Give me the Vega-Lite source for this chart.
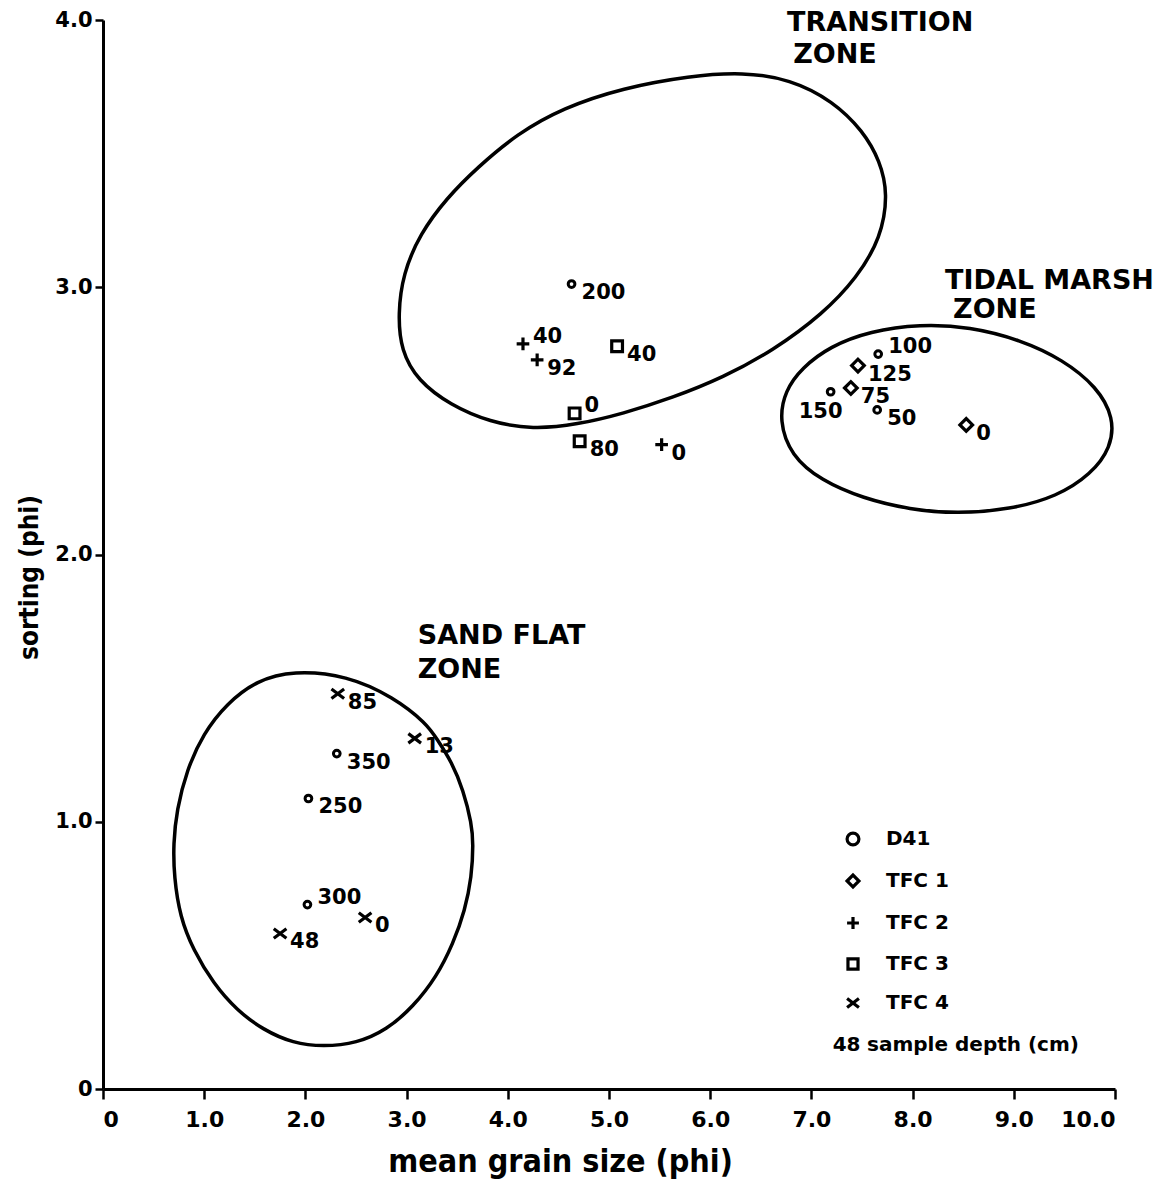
{
  "$schema": "https://vega.github.io/schema/vega-lite/v6.json",
  "autosize": {"type": "none"},
  "padding": {"left": 103, "top": 20, "right": 53, "bottom": 92},
  "width": 1012,
  "height": 1069,
  "background": "white",
  "config": {
    "view": {"stroke": null},
    "axis": {"grid": false, "domainColor": "black", "tickColor": "black", "labelColor": "black", "titleColor": "black"},
    "legend": {
      "orient": "none", "legendX": 740, "legendY": 809, "padding": 0,
      "labelFont": "DejaVu Sans", "labelFontWeight": "bold", "labelFontSize": 20, "labelColor": "black",
      "labelOffset": 23, "rowPadding": 16, "symbolStrokeWidth": 3.2, "symbolStrokeColor": "black",
      "symbolFillColor": "transparent", "symbolSize": 140
    }
  },
  "datasets": {
    "samples": [
      {"series": "D41", "depth": 200, "grain": 4.63, "sorting": 3.012},
      {"series": "D41", "depth": 100, "grain": 7.66, "sorting": 2.750},
      {"series": "D41", "depth": 150, "grain": 7.19, "sorting": 2.609},
      {"series": "D41", "depth": 50, "grain": 7.65, "sorting": 2.541},
      {"series": "D41", "depth": 350, "grain": 2.31, "sorting": 1.255},
      {"series": "D41", "depth": 250, "grain": 2.03, "sorting": 1.087},
      {"series": "D41", "depth": 300, "grain": 2.02, "sorting": 0.690},
      {"series": "TFC 1", "depth": 125, "grain": 7.46, "sorting": 2.707},
      {"series": "TFC 1", "depth": 75, "grain": 7.39, "sorting": 2.623},
      {"series": "TFC 1", "depth": 0, "grain": 8.53, "sorting": 2.485},
      {"series": "TFC 2", "depth": 40, "grain": 4.15, "sorting": 2.788},
      {"series": "TFC 2", "depth": 92, "grain": 4.29, "sorting": 2.728},
      {"series": "TFC 2", "depth": 0, "grain": 5.52, "sorting": 2.411},
      {"series": "TFC 3", "depth": 40, "grain": 5.08, "sorting": 2.779},
      {"series": "TFC 3", "depth": 0, "grain": 4.66, "sorting": 2.528},
      {"series": "TFC 3", "depth": 80, "grain": 4.71, "sorting": 2.424},
      {"series": "TFC 4", "depth": 85, "grain": 2.32, "sorting": 1.479},
      {"series": "TFC 4", "depth": 13, "grain": 3.08, "sorting": 1.312},
      {"series": "TFC 4", "depth": 0, "grain": 2.59, "sorting": 0.642},
      {"series": "TFC 4", "depth": 48, "grain": 1.75, "sorting": 0.582}
    ],
    "zones": [
      {"zone": "transition", "i": 0, "grain": 2.915, "sorting": 2.901},
      {"zone": "transition", "i": 1, "grain": 2.964, "sorting": 3.050},
      {"zone": "transition", "i": 2, "grain": 3.132, "sorting": 3.200},
      {"zone": "transition", "i": 3, "grain": 3.399, "sorting": 3.335},
      {"zone": "transition", "i": 4, "grain": 3.696, "sorting": 3.447},
      {"zone": "transition", "i": 5, "grain": 4.091, "sorting": 3.574},
      {"zone": "transition", "i": 6, "grain": 4.545, "sorting": 3.671},
      {"zone": "transition", "i": 7, "grain": 5.138, "sorting": 3.746},
      {"zone": "transition", "i": 8, "grain": 5.800, "sorting": 3.791},
      {"zone": "transition", "i": 9, "grain": 6.324, "sorting": 3.805},
      {"zone": "transition", "i": 10, "grain": 6.789, "sorting": 3.779},
      {"zone": "transition", "i": 11, "grain": 7.213, "sorting": 3.697},
      {"zone": "transition", "i": 12, "grain": 7.510, "sorting": 3.585},
      {"zone": "transition", "i": 13, "grain": 7.678, "sorting": 3.473},
      {"zone": "transition", "i": 14, "grain": 7.757, "sorting": 3.350},
      {"zone": "transition", "i": 15, "grain": 7.688, "sorting": 3.185},
      {"zone": "transition", "i": 16, "grain": 7.451, "sorting": 3.036},
      {"zone": "transition", "i": 17, "grain": 7.115, "sorting": 2.901},
      {"zone": "transition", "i": 18, "grain": 6.621, "sorting": 2.763},
      {"zone": "transition", "i": 19, "grain": 6.126, "sorting": 2.662},
      {"zone": "transition", "i": 20, "grain": 5.632, "sorting": 2.587},
      {"zone": "transition", "i": 21, "grain": 5.138, "sorting": 2.527},
      {"zone": "transition", "i": 22, "grain": 4.684, "sorting": 2.486},
      {"zone": "transition", "i": 23, "grain": 4.249, "sorting": 2.468},
      {"zone": "transition", "i": 24, "grain": 3.824, "sorting": 2.495},
      {"zone": "transition", "i": 25, "grain": 3.429, "sorting": 2.560},
      {"zone": "transition", "i": 26, "grain": 3.112, "sorting": 2.650},
      {"zone": "transition", "i": 27, "grain": 2.944, "sorting": 2.763},
      {"zone": "tidal", "i": 0, "grain": 6.680, "sorting": 2.501},
      {"zone": "tidal", "i": 1, "grain": 6.739, "sorting": 2.613},
      {"zone": "tidal", "i": 2, "grain": 6.907, "sorting": 2.699},
      {"zone": "tidal", "i": 3, "grain": 7.184, "sorting": 2.779},
      {"zone": "tidal", "i": 4, "grain": 7.579, "sorting": 2.836},
      {"zone": "tidal", "i": 5, "grain": 8.073, "sorting": 2.862},
      {"zone": "tidal", "i": 6, "grain": 8.567, "sorting": 2.852},
      {"zone": "tidal", "i": 7, "grain": 9.061, "sorting": 2.804},
      {"zone": "tidal", "i": 8, "grain": 9.486, "sorting": 2.729},
      {"zone": "tidal", "i": 9, "grain": 9.822, "sorting": 2.627},
      {"zone": "tidal", "i": 10, "grain": 9.990, "sorting": 2.512},
      {"zone": "tidal", "i": 11, "grain": 9.961, "sorting": 2.400},
      {"zone": "tidal", "i": 12, "grain": 9.763, "sorting": 2.300},
      {"zone": "tidal", "i": 13, "grain": 9.427, "sorting": 2.217},
      {"zone": "tidal", "i": 14, "grain": 8.962, "sorting": 2.168},
      {"zone": "tidal", "i": 15, "grain": 8.439, "sorting": 2.153},
      {"zone": "tidal", "i": 16, "grain": 7.974, "sorting": 2.168},
      {"zone": "tidal", "i": 17, "grain": 7.510, "sorting": 2.210},
      {"zone": "tidal", "i": 18, "grain": 7.095, "sorting": 2.277},
      {"zone": "tidal", "i": 19, "grain": 6.798, "sorting": 2.370},
      {"zone": "sand", "i": 0, "grain": 1.880, "sorting": 1.566},
      {"zone": "sand", "i": 1, "grain": 2.408, "sorting": 1.548},
      {"zone": "sand", "i": 2, "grain": 2.869, "sorting": 1.467},
      {"zone": "sand", "i": 3, "grain": 3.199, "sorting": 1.367},
      {"zone": "sand", "i": 4, "grain": 3.297, "sorting": 1.311},
      {"zone": "sand", "i": 5, "grain": 3.446, "sorting": 1.224},
      {"zone": "sand", "i": 6, "grain": 3.560, "sorting": 1.118},
      {"zone": "sand", "i": 7, "grain": 3.643, "sorting": 0.993},
      {"zone": "sand", "i": 8, "grain": 3.659, "sorting": 0.918},
      {"zone": "sand", "i": 9, "grain": 3.643, "sorting": 0.794},
      {"zone": "sand", "i": 10, "grain": 3.577, "sorting": 0.669},
      {"zone": "sand", "i": 11, "grain": 3.461, "sorting": 0.545},
      {"zone": "sand", "i": 12, "grain": 3.297, "sorting": 0.420},
      {"zone": "sand", "i": 13, "grain": 3.066, "sorting": 0.308},
      {"zone": "sand", "i": 14, "grain": 2.803, "sorting": 0.221},
      {"zone": "sand", "i": 15, "grain": 2.507, "sorting": 0.171},
      {"zone": "sand", "i": 16, "grain": 2.177, "sorting": 0.158},
      {"zone": "sand", "i": 17, "grain": 1.880, "sorting": 0.171},
      {"zone": "sand", "i": 18, "grain": 1.584, "sorting": 0.221},
      {"zone": "sand", "i": 19, "grain": 1.321, "sorting": 0.295},
      {"zone": "sand", "i": 20, "grain": 1.090, "sorting": 0.395},
      {"zone": "sand", "i": 21, "grain": 0.892, "sorting": 0.520},
      {"zone": "sand", "i": 22, "grain": 0.761, "sorting": 0.644},
      {"zone": "sand", "i": 23, "grain": 0.702, "sorting": 0.794},
      {"zone": "sand", "i": 24, "grain": 0.695, "sorting": 0.918},
      {"zone": "sand", "i": 25, "grain": 0.728, "sorting": 1.043},
      {"zone": "sand", "i": 26, "grain": 0.827, "sorting": 1.193},
      {"zone": "sand", "i": 27, "grain": 0.991, "sorting": 1.330},
      {"zone": "sand", "i": 28, "grain": 1.222, "sorting": 1.442},
      {"zone": "sand", "i": 29, "grain": 1.519, "sorting": 1.529}
    ],
    "zoneLabels": [
      {"text": "TRANSITION", "grain": 6.76, "sorting": 3.959},
      {"text": "ZONE", "grain": 6.82, "sorting": 3.839},
      {"text": "TIDAL MARSH", "grain": 8.32, "sorting": 2.994},
      {"text": "ZONE", "grain": 8.40, "sorting": 2.886},
      {"text": "SAND FLAT", "grain": 3.11, "sorting": 1.665},
      {"text": "ZONE", "grain": 3.11, "sorting": 1.538}
    ],
    "legendNotes": [
      {"text": "48", "grain": 7.21, "sorting": 0.142},
      {"text": "sample depth (cm)", "grain": 7.55, "sorting": 0.142}
    ]
  },
  "encoding": {
    "x": {"field": "grain", "type": "quantitative", "scale": {"domain": [0, 10], "nice": false, "zero": false},
      "axis": {"values": [0,1,2,3,4,5,6,7,8,9,10], "labelExpr": "datum.value == 0 ? '0' : format(datum.value, '.1f')",
        "title": "mean grain size (phi)", "domainWidth": 3, "tickWidth": 2.5, "tickSize": 10, "labelPadding": 10,
        "labelFont": "DejaVu Sans", "labelFontWeight": "bold", "labelFontSize": 22,
        "titleFont": "Liberation Sans Narrow, DejaVu Sans Condensed, Liberation Sans", "titleFontWeight": "bold", "titleFontSize": 32, "titlePadding": 16, "titleX": 457}},
    "y": {"field": "sorting", "type": "quantitative", "scale": {"domain": [0, 4], "nice": false, "zero": false},
      "axis": {"values": [0,1,2,3,4], "labelExpr": "datum.value == 0 ? '0' : format(datum.value, '.1f')",
        "title": "sorting (phi)", "domainWidth": 3, "tickWidth": 2.5, "tickSize": 8, "labelPadding": 3,
        "labelFont": "DejaVu Sans", "labelFontWeight": "bold", "labelFontSize": 21,
        "titleFont": "Liberation Sans Narrow, DejaVu Sans Condensed, Liberation Sans", "titleFontWeight": "bold", "titleFontSize": 26, "titlePadding": 12, "titleY": 557}}
  },
  "layer": [
    {
      "data": {"name": "zones"},
      "mark": {"type": "line", "interpolate": "basis-closed", "stroke": "black", "strokeWidth": 3.5},
      "encoding": {"detail": {"field": "zone"}, "order": {"field": "i", "type": "quantitative"}}
    },
    {
      "data": {"name": "samples"},
      "transform": [{"filter": "datum.series != 'D41'"}],
      "mark": {"type": "point", "filled": false, "stroke": "black", "strokeWidth": 3.2, "opacity": 1, "size": 160},
      "encoding": {
        "shape": {"field": "series", "type": "nominal", "title": null,
          "scale": {"domain": ["D41", "TFC 1", "TFC 2", "TFC 3", "TFC 4"],
            "range": ["circle", "diamond", "M-1,0H1M0,-1V1", "M-0.85,-0.85H0.85V0.85H-0.85Z", "M-1,-0.75L1,0.75M1,-0.75L-1,0.75"]},
          "legend": {"encode": {"symbols": {"update": {"size": {"signal": "datum.value == 'D41' ? 45 : 150"}}}}}}
      }
    },
    {
      "data": {"name": "samples"},
      "transform": [{"filter": "datum.series == 'D41'"}],
      "mark": {"type": "point", "filled": false, "stroke": "black", "strokeWidth": 3, "opacity": 1, "size": 45},
      "encoding": {
        "shape": {"field": "series", "type": "nominal", "title": null,
          "legend": {"encode": {"symbols": {"update": {"size": {"signal": "datum.value == 'D41' ? 45 : 150"}}}}}}
      }
    },
    {
      "data": {"name": "samples"},
      "transform": [{"filter": "(datum.series=='TFC 2'&&datum.depth==40)||(datum.series=='TFC 3'&&datum.depth==0)||(datum.series=='D41'&&(datum.depth==100||datum.depth==300))"}],
      "mark": {"type": "text", "align": "left", "baseline": "alphabetic", "dx": 10, "dy": -1, "font": "DejaVu Sans", "fontWeight": "bold", "fontSize": 21, "color": "black"},
      "encoding": {"text": {"field": "depth", "type": "nominal"}}
    },
    {
      "data": {"name": "samples"},
      "transform": [{"filter": "datum.series=='D41'&&datum.depth==150"}],
      "mark": {"type": "text", "align": "center", "baseline": "alphabetic", "dx": -10, "dy": 26, "font": "DejaVu Sans", "fontWeight": "bold", "fontSize": 21, "color": "black"},
      "encoding": {"text": {"field": "depth", "type": "nominal"}}
    },
    {
      "data": {"name": "samples"},
      "transform": [{"filter": "!((datum.series=='TFC 2'&&datum.depth==40)||(datum.series=='TFC 3'&&datum.depth==0)||(datum.series=='D41'&&(datum.depth==100||datum.depth==300||datum.depth==150)))"}],
      "mark": {"type": "text", "align": "left", "baseline": "alphabetic", "dx": 10, "dy": 15, "font": "DejaVu Sans", "fontWeight": "bold", "fontSize": 21, "color": "black"},
      "encoding": {"text": {"field": "depth", "type": "nominal"}}
    },
    {
      "data": {"name": "zoneLabels"},
      "mark": {"type": "text", "align": "left", "baseline": "alphabetic", "font": "DejaVu Sans", "fontWeight": "bold", "fontSize": 27, "color": "black"},
      "encoding": {"text": {"field": "text", "type": "nominal"}}
    },
    {
      "data": {"name": "legendNotes"},
      "mark": {"type": "text", "align": "left", "baseline": "alphabetic", "font": "DejaVu Sans", "fontWeight": "bold", "fontSize": 20, "color": "black"},
      "encoding": {"text": {"field": "text", "type": "nominal"}}
    }
  ]
}
